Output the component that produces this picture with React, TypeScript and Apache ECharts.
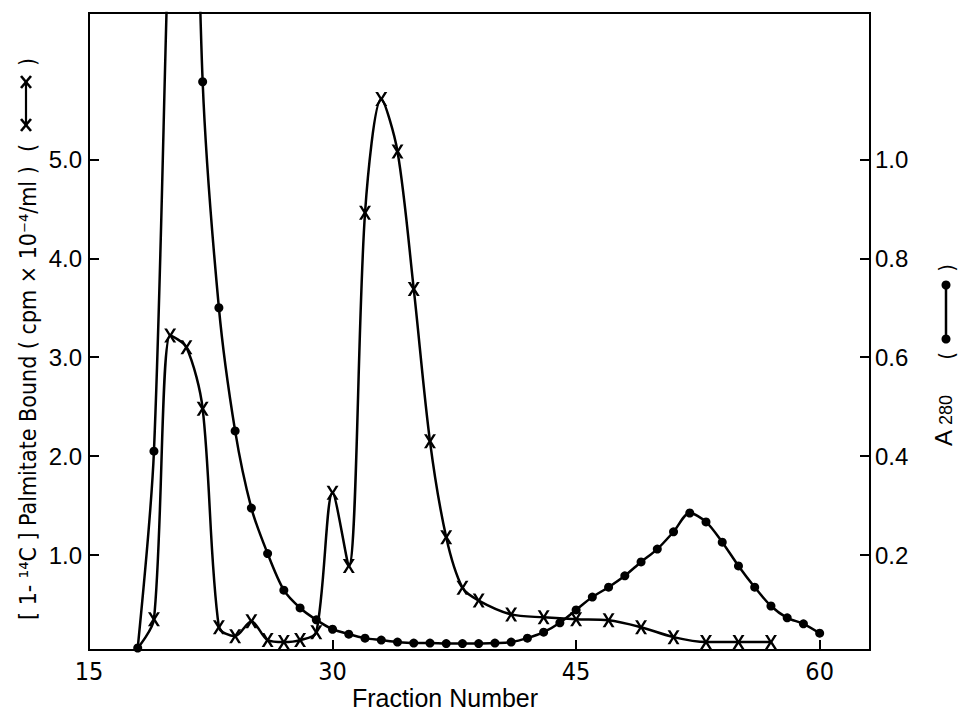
import React, { useEffect, useRef } from "react";
import * as echarts from "echarts";

// [1-14C] palmitate bound (cpm x 10^-4 / ml), left axis
const palmitateFractions = [18, 19, 20, 21, 22, 23, 24, 25, 26, 27, 28, 29, 30, 31, 32, 33, 34, 35, 36, 37, 38, 39, 41, 43, 45, 47, 49, 51, 53, 55, 57];
const palmitateValues = [0.06, 0.35, 3.22, 3.1, 2.48, 0.27, 0.18, 0.33, 0.14, 0.12, 0.14, 0.22, 1.63, 0.89, 4.46, 5.61, 5.08, 3.69, 2.15, 1.18, 0.67, 0.54, 0.4, 0.37, 0.35, 0.34, 0.27, 0.17, 0.12, 0.12, 0.12];

// A280, right axis
const a280Fractions = [18, 19, 20, 21, 22, 23, 24, 25, 26, 27, 28, 29, 30, 31, 32, 33, 34, 35, 36, 37, 38, 39, 40, 41, 42, 43, 44, 45, 46, 47, 48, 49, 50, 51, 52, 53, 54, 55, 56, 57, 58, 59, 60];
const a280Values = [0.012, 0.41, 1.55, 2.3, 1.157, 0.7, 0.451, 0.295, 0.203, 0.129, 0.093, 0.069, 0.05, 0.04, 0.032, 0.028, 0.024, 0.022, 0.022, 0.021, 0.021, 0.021, 0.022, 0.024, 0.032, 0.044, 0.063, 0.089, 0.115, 0.135, 0.158, 0.186, 0.212, 0.247, 0.285, 0.267, 0.226, 0.178, 0.135, 0.097, 0.073, 0.061, 0.042];

const xTicks = [15, 30, 45, 60];
const leftTicks = [1, 2, 3, 4, 5];
const rightTicks = [0.2, 0.4, 0.6, 0.8, 1.0];

const X_SYMBOL =
  "path://M0,0 L2.8,0 L6,5.2 L9.2,0 L12,0 L7.6,7 L12,14 L9.2,14 L6,8.8 L2.8,14 L0,14 L4.4,7 Z";

const SANS = "'Liberation Sans', Arial, sans-serif";
const NARROW = "'Liberation Sans Narrow', 'DejaVu Sans Condensed', 'Liberation Sans', sans-serif";

function xMark(cx: number, cy: number) {
  return [
    { type: "line", shape: { x1: cx - 5, y1: cy - 6, x2: cx + 5, y2: cy + 6 }, style: { stroke: "#000", lineWidth: 2.6 } },
    { type: "line", shape: { x1: cx - 5, y1: cy + 6, x2: cx + 5, y2: cy - 6 }, style: { stroke: "#000", lineWidth: 2.6 } },
  ];
}

export default function App() {
  const ref = useRef<HTMLDivElement>(null);

  useEffect(() => {
    if (!ref.current) return;
    const chart = echarts.init(ref.current, undefined, { renderer: "svg" });

    const axisLine = { show: true, lineStyle: { color: "#000", width: 2 } };
    const tickStyle = { color: "#000", width: 2 };

    chart.setOption({
      animation: false,
      backgroundColor: "#fff",
      grid: {
        left: 89,
        top: 13,
        width: 781,
        height: 637,
        show: true,
        borderColor: "#000",
        borderWidth: 2,
        backgroundColor: "transparent",
      },
      xAxis: {
        type: "value",
        min: 15,
        max: 63.1,
        axisLine,
        axisTick: { show: true, inside: true, length: 10, lineStyle: tickStyle, customValues: xTicks },
        axisLabel: {
          customValues: xTicks,
          margin: 9,
          color: "#000",
          fontFamily: NARROW,
          fontSize: 25,
          formatter: (v: number) => String(v),
        },
        splitLine: { show: false },
      },
      yAxis: [
        {
          type: "value",
          position: "left",
          min: 0.04,
          max: 6.48,
          axisLine,
          axisTick: { show: true, inside: true, length: 10, lineStyle: tickStyle, customValues: leftTicks },
          axisLabel: {
            customValues: leftTicks,
            margin: 7,
            color: "#000",
            fontFamily: SANS,
            fontSize: 24,
            formatter: (v: number) => v.toFixed(1),
          },
          splitLine: { show: false },
        },
        {
          type: "value",
          position: "right",
          min: 0.008,
          max: 1.296,
          axisLine,
          axisTick: { show: true, inside: true, length: 10, lineStyle: tickStyle, customValues: rightTicks },
          axisLabel: {
            customValues: rightTicks,
            margin: 5,
            color: "#000",
            fontFamily: SANS,
            fontSize: 24,
            formatter: (v: number) => v.toFixed(1),
          },
          splitLine: { show: false },
        },
      ],
      series: [
        {
          name: "A280",
          type: "line",
          yAxisIndex: 1,
          smooth: 0.3,
          symbol: "circle",
          symbolSize: 9,
          showAllSymbol: true,
          lineStyle: { color: "#000", width: 2.5 },
          itemStyle: { color: "#000" },
          data: a280Fractions.map((f, i) => [f, a280Values[i]]),
          z: 2,
        },
        {
          name: "Palmitate",
          type: "line",
          yAxisIndex: 0,
          smooth: 0.3,
          symbol: X_SYMBOL,
          symbolSize: [12, 14],
          showAllSymbol: true,
          lineStyle: { color: "#000", width: 2.5 },
          itemStyle: { color: "#000" },
          data: palmitateFractions.map((f, i) =>
            i === 0 ? { value: [f, palmitateValues[i]], symbol: "none" } : [f, palmitateValues[i]]
          ),
          z: 3,
        },
      ],
      graphic: [
        {
          type: "text",
          x: 28,
          y: 620,
          rotation: Math.PI / 2,
          style: {
            text: "[ 1- ¹⁴C ] Palmitate Bound ( cpm × 10⁻⁴/ml )",
            fill: "#000",
            font: `23px ${NARROW}`,
            align: "left",
            verticalAlign: "middle",
          },
        },
        {
          type: "text",
          x: 28,
          y: 148,
          rotation: Math.PI / 2,
          style: { text: "(", fill: "#000", font: `23px ${NARROW}`, align: "center", verticalAlign: "middle" },
        },
        {
          type: "text",
          x: 28,
          y: 62,
          rotation: Math.PI / 2,
          style: { text: ")", fill: "#000", font: `23px ${NARROW}`, align: "center", verticalAlign: "middle" },
        },
        { type: "line", shape: { x1: 26, y1: 125, x2: 26, y2: 82 }, style: { stroke: "#000", lineWidth: 2.2 } },
        ...xMark(26, 125),
        ...xMark(26, 82),
        {
          type: "text",
          x: 943,
          y: 438,
          rotation: Math.PI / 2,
          style: { text: "A", fill: "#000", font: `24px ${SANS}`, align: "center", verticalAlign: "middle" },
        },
        {
          type: "text",
          x: 946,
          y: 410,
          rotation: Math.PI / 2,
          style: { text: "280", fill: "#000", font: `18px ${SANS}`, align: "center", verticalAlign: "middle" },
        },
        {
          type: "text",
          x: 946,
          y: 356,
          rotation: Math.PI / 2,
          style: { text: "(", fill: "#000", font: `22px ${NARROW}`, align: "center", verticalAlign: "middle" },
        },
        {
          type: "text",
          x: 946,
          y: 268,
          rotation: Math.PI / 2,
          style: { text: ")", fill: "#000", font: `22px ${NARROW}`, align: "center", verticalAlign: "middle" },
        },
        { type: "line", shape: { x1: 946, y1: 285, x2: 946, y2: 339 }, style: { stroke: "#000", lineWidth: 2.5 } },
        { type: "circle", shape: { cx: 946, cy: 285, r: 4.5 }, style: { fill: "#000" } },
        { type: "circle", shape: { cx: 946, cy: 339, r: 4.5 }, style: { fill: "#000" } },
        {
          type: "text",
          x: 445,
          y: 698,
          style: {
            text: "Fraction Number",
            fill: "#000",
            font: `25px ${SANS}`,
            align: "center",
            verticalAlign: "middle",
          },
        },
      ],
    });

    return () => chart.dispose();
  }, []);

  return <div ref={ref} style={{ width: 958, height: 716, position: "absolute", left: 0, top: 0 }} />;
}
